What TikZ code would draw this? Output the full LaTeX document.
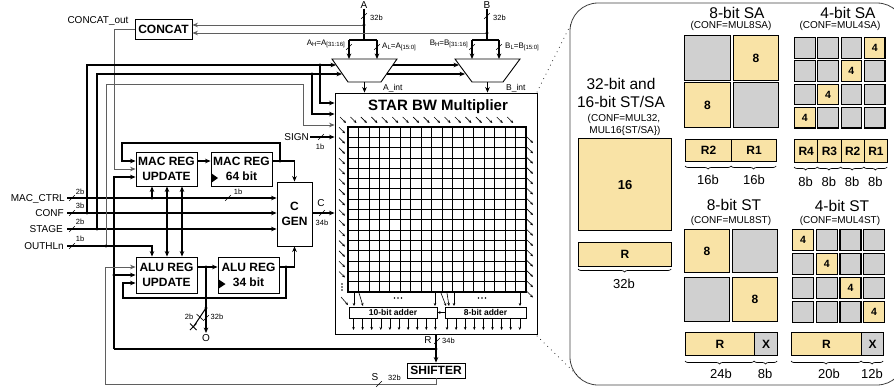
\documentclass[tikz,border=0pt]{standalone}
\usepackage{fontspec}
\setmainfont{Liberation Sans}
\usetikzlibrary{arrows.meta,decorations.pathreplacing}
\definecolor{yel}{RGB}{249,227,166}
\definecolor{gry}{RGB}{208,208,208}
\definecolor{wire}{RGB}{95,95,95}
\newcommand{\fsz}[1]{\fontsize{#1}{#1}\selectfont}
\newcommand{\busm}[2]{\draw[line width=0.6pt,black] (#1-2.8,#2+2.8) -- (#1+2.8,#2-2.8);}
\newcommand{\jdot}[2]{\fill (#1,#2) circle (1.7pt);}
\newcommand{\sbs}[1]{\raisebox{-1.6pt}{\fsz{6}#1}}
\newcommand{\pcell}[6]{\node[cel,fill=#5,minimum width=#3pt,minimum height=#4pt,anchor=north west] at (#1,#2) {#6};}
\begin{document}
\begin{tikzpicture}[x=1pt,y=-1pt,
  >={Stealth[length=5.5pt,width=4.6pt]},
  wb/.style={line width=1.1pt,black},
  wg/.style={line width=0.8pt,wire},
  blk/.style={draw,line width=0.9pt,fill=white,font=\fontsize{12}{14.5}\selectfont\bfseries,align=center,inner sep=0pt},
  lbl/.style={font=\fsz{10},inner sep=0pt},
  sml/.style={font=\fsz{7.5},inner sep=0pt},
  sub/.style={font=\fsz{8},inner sep=0pt},
  cfg/.style={font=\fsz{10},inner sep=0pt},
  ttl/.style={font=\fsz{15.5},inner sep=0pt},
  cel/.style={draw,line width=1.1pt,inner sep=0pt,font=\bfseries\fsz{12}},
  brc/.style={decorate,decoration={brace,mirror,amplitude=3pt},line width=0.7pt},
  bl/.style={font=\fsz{13},inner sep=0pt},
  sa/.style={-{Stealth[length=3pt,width=2.6pt]},line width=0.6pt},
]
\useasboundingbox (0,0) rectangle (894,388);

% ---------------- blocks ----------------
\node[blk,minimum width=57pt,minimum height=20pt] (concat) at (163.5,29) {CONCAT};
\node[blk,minimum width=61pt,minimum height=34pt] (macu) at (166.5,169) {MAC REG\\UPDATE};
\node[blk,minimum width=61pt,minimum height=34pt] (macr) at (241.5,169) {MAC REG\\64 bit};
\node[blk,minimum width=61pt,minimum height=36pt] (alu) at (166.5,275) {ALU REG\\UPDATE};
\node[blk,minimum width=61pt,minimum height=36pt] (alur) at (248.5,275) {ALU REG\\34 bit};
\node[blk,minimum width=35pt,minimum height=64pt] (cgen) at (294.5,214) {C\\GEN};
\node[draw,line width=0.9pt,minimum width=202pt,minimum height=241pt,inner sep=0pt] (mult) at (436,213.5) {};
\node[font=\bfseries\fsz{15},inner sep=0pt] (title) at (438,107) {STAR BW Multiplier};
\node[blk,minimum width=58pt,minimum height=15pt] (shift) at (436,370.5) {SHIFTER};
\node[blk,font=\bfseries\fsz{8.5},minimum width=88pt,minimum height=11pt] (add10) at (393,312.5) {10-bit adder};
\node[blk,font=\bfseries\fsz{8.5},minimum width=81pt,minimum height=11pt] (add8) at (485.5,312.5) {8-bit adder};
\fill (211,173) -- (218,178) -- (211,183) -- cycle;
\fill (218,279) -- (225.5,284) -- (218,289) -- cycle;

% muxes
\draw[line width=0.9pt,fill=white] (332,59) -- (397,59) -- (381,82) -- (348,82) -- cycle;
\draw[line width=0.9pt,fill=white] (455,59) -- (520,59) -- (503,82) -- (472,82) -- cycle;
\coordinate (muxA) at (364.5,82);
\coordinate (muxB) at (487.5,82);

% ---------------- A / B inputs ----------------
\node[lbl] (Alab) at (364,5) {A};
\node[lbl] (Blab) at (487,5) {B};
\coordinate (Ad) at (364,25);
\coordinate (Bd) at (487,33);
\draw[wb] (Alab.south) -- (364,40);
\draw[wb] (Blab.south) -- (487,40);
\busm{364}{16} \busm{487}{16}
\node[sml,anchor=west] (a32) at (370,18) {32b};
\node[sml,anchor=west] (b32) at (493,18) {32b};
\draw[wb] (349,40) -- (377,40);
\draw[wb] (472,40) -- (499,40);
\draw[wb,->] (349,40) -- (349,59);
\draw[wb,->] (377,40) -- (377,59);
\draw[wb,->] (472,40) -- (472,59);
\draw[wb,->] (499,40) -- (499,59);
\busm{349}{47} \busm{377}{47} \busm{472}{47} \busm{499}{47}
\node[sub,anchor=east] (ah) at (345,44) {A\sbs{H}=A\sbs{[31:16]}};
\node[sub,anchor=west] (al) at (382,47) {A\sbs{L}=A\sbs{[15:0]}};
\node[sub,anchor=east] (bh) at (468,44) {B\sbs{H}=B\sbs{[31:16]}};
\node[sub,anchor=west] (bl) at (505,47) {B\sbs{L}=B\sbs{[15:0]}};
\draw[wg,->] (Ad) -- (Ad -| concat.east);
\draw[wg,->] (Bd) -- (Bd -| concat.east);
\jdot{364}{25} \jdot{487}{33}
\draw[wb,->] (muxA) -- (mult.north -| muxA);
\draw[wb,->] (muxB) -- (mult.north -| muxB);
\node[font=\fsz{8.5},inner sep=0pt,anchor=west] (aint) at (383,88) {A\_int};
\node[font=\fsz{8.5},inner sep=0pt,anchor=west] (bint) at (506,88) {B\_int};

% CONCAT out
\node[lbl] (cout) at (98,21) {CONCAT\_out};
\draw[wg,->] (concat.west) -- (114,29) -- (114,169) -- (macu.west |- 0,169);

% ---------------- control inputs ----------------
\node[lbl,anchor=east] (mctrl) at (65,199) {MAC\_CTRL};
\node[lbl,anchor=east] (conf) at (64,213) {CONF};
\node[lbl,anchor=east] (stage) at (63,229) {STAGE};
\node[lbl,anchor=east] (outh) at (64,246) {OUTHLn};
% MAC_CTRL
\draw[wb,->] (67,198) -- (cgen.west |- 0,198);
\draw[wb,->] (152,198) -- (macu.south -| 152,0);
\busm{72}{198} \node[sml] at (80,192) {2b};
\busm{228}{198} \node[sml] at (238,192) {1b};
\jdot{152}{198}
% CONF
\draw[wb,->] (67,213) -- (cgen.west |- 0,213);
\draw[wb,->] (87,213) -- (87,65) -- (336,65);
\draw[wb,->] (393,65) -- (459,65);
\draw[wb,->] (320,65) -- (320,103) -- (mult.west |- 0,103);
\busm{72}{213} \node[sml] at (80,206) {3b};
\jdot{87}{213} \jdot{167}{213} \jdot{320}{65}
% STAGE
\draw[wb,->] (67,229) -- (cgen.west |- 0,229);
\draw[wb,->] (97,229) -- (97,74) -- (342,74);
\draw[wb,->] (387,74) -- (465,74);
\draw[wb,->] (312,74) -- (312,114) -- (mult.west |- 0,114);
\busm{72}{229} \node[sml] at (80,222) {2b};
\jdot{97}{229} \jdot{182}{229} \jdot{312}{74}
% OUTHLn
\draw[wb,->] (67,246) -- (152,246) -- (alu.north -| 152,0);
\draw[wg,->] (106,246) -- (106,84) -- (303,84) -- (303,125) -- (mult.west |- 0,125);
\busm{72}{246} \node[sml] at (80,239) {1b};
\jdot{106}{246}
% verticals between MAC and ALU
\draw[wb,<->] (macu.south -| 167,0) -- (alu.north -| 167,0);
\draw[wb,<->] (macu.south -| 182,0) -- (alu.north -| 182,0);

% SIGN
\node[lbl,anchor=east] (sign) at (309,137) {SIGN};
\draw[wb,->] (sign.east) ++(1,0) -- (mult.west |- 0,137);
\busm{321}{137} \node[sml] at (320,147) {1b};

% ---------------- MAC REG ----------------
\draw[wb,->] (macu.east |- 0,161) -- (macr.west |- 0,161);
\draw[wb,->] (macr.east |- 0,161) -- (294.5,161) -- (cgen.north);
\draw[wb,->] (280,161) -- (280,143) -- (122,143) -- (122,161) -- (macu.west |- 0,161);
\jdot{280}{161}

% ---------------- ALU REG ----------------
\draw[wb,->] (alu.east |- 0,267) -- (alur.west |- 0,267);
\draw[wb,->] (alur.east |- 0,267) -- (294.5,267) -- (cgen.south);
\draw[wb,->] (286,267) -- (286,298) -- (123,298) -- (123,283) -- (alu.west |- 0,283);
\jdot{286}{267}
\draw[wb] (206,267) -- (206,308);
\coordinate (Oend) at (206,333);
\draw[wb,->] (206,308) -- (Oend);
\node[lbl,anchor=north] (Olab) at (206,334) {O};
\draw[wb] (206,308) -- (194,326);
\draw[line width=0.8pt] (190,323.5) -- (196.5,330) (190,330) -- (196.5,323.5);
\draw[line width=0.6pt] (196.5,314) -- (203,320);
\busm{206}{318}
\node[sml] at (189,317) {2b};
\node[sml] at (217,317) {32b};
\jdot{206}{267} \jdot{206}{308}

% C
\draw[wb,->] (cgen.east |- 0,213) -- (mult.west |- 0,213);
\node[lbl] at (321,203) {C};
\busm{322}{213}
\node[sml] at (322,223) {34b};

% ---------------- R feedback ----------------
\draw[wb,->] (114,349) -- (114,177) -- (macu.west |- 0,177);
\draw[wb,->] (114,275) -- (alu.west |- 0,275);
\draw[wb] (114,349) -- (436,349);
\draw[wb,->] (mult.south -| shift.north) -- (shift.north);
\jdot{114}{275} \jdot{436}{349}
\node[lbl] at (428,340) {R};
\busm{437}{341}
\node[sml,anchor=west] at (442,341) {34b};
% S
\draw[wg,->] (shift.south) -- (436,384) -- (105,384) -- (105,267) -- (alu.west |- 0,267);
\node[lbl] at (375,377) {S};
\busm{379}{384}
\node[sml,anchor=west] at (388,378) {32b};

% ---------------- multiplier internals ----------------
\foreach \i in {1,...,16} \draw[line width=0.8pt] (348+\i*10.47,127) -- (348+\i*10.47,292);
\foreach \j in {1,...,15} \draw[line width=0.8pt] (348,127+\j*10.31) -- (526,127+\j*10.31);
\draw[line width=1.5pt] (348,127) rectangle (526,292);
\foreach \i in {0,...,16} \draw[sa] (340+\i*10.45,117) -- ++(6,6);
\foreach \j in {1,...,15} \draw[sa] (339,117+\j*10.3) -- ++(6,6);
\foreach \k in {0,1,2} \fill (342,284+\k*3) circle (0.8pt);
\foreach \j in {0,...,15} \draw[sa] (527,137+\j*10.3) -- ++(6,6);
\draw[sa] (354,293) -- (354,306);
\draw[sa] (359,293) -- (363,306);
\draw[sa] (341,297) -- (348,305);
\foreach \k in {0,1,2} \fill (394.5+\k*3.5,298) circle (0.8pt);
\draw[sa] (435,293) -- (435,306);
\draw[sa] (441,293) -- (446,306);
\draw[sa] (447,293) -- (449,306);
\draw[sa] (454,293) -- (454,306);
\foreach \k in {0,1,2} \fill (478.5+\k*3.5,298) circle (0.8pt);
\draw[sa] (520,293) -- (520,306);
\foreach \i in {0,...,9} \draw[sa] (353.5+\i*9.1,318) -- (353.5+\i*9.1,330);
\foreach \i in {0,...,8} \draw[sa] (447+\i*9.1,318) -- (447+\i*9.1,330);
\draw[sa] (add8.west) -- (add10.east);

% ---------------- detail panel ----------------
\draw[line width=0.8pt,black!75,rounded corners=28pt] (570,3) rectangle (905,385);
\draw[line width=1pt,line cap=round,dash pattern=on 0pt off 5pt] (537,92) -- (572,22);
\draw[line width=1pt,line cap=round,dash pattern=on 0pt off 5pt] (537,336) -- (580,378);

% column 1
\node[ttl] at (621,84) {32-bit and};
\node[ttl] at (621,102) {16-bit ST/SA};
\node[cfg] at (624,119) {(CONF=MUL32,};
\node[cfg] at (625,131) {MUL16\{ST/SA\})};
\pcell{578}{138}{93}{92}{yel}{\fsz{13}16}
\pcell{578}{242}{93}{24}{yel}{R}
\draw[brc] (578,269) -- (671,269);
\node[bl] at (624,284) {32b};

% column 2
\node[ttl] at (737,13) {8-bit SA};
\node[cfg] at (731,26) {(CONF=MUL8SA)};
\pcell{684}{35}{46}{45}{gry}{}
\pcell{733}{35}{45}{45}{yel}{8}
\pcell{684}{82}{46}{45}{yel}{8}
\pcell{733}{82}{45}{45}{gry}{}
\pcell{685}{139}{46}{22}{yel}{R2}
\pcell{731}{139}{45}{22}{yel}{R1}
\draw[brc] (685,166) -- (731,166);
\draw[brc] (731,166) -- (776,166);
\node[bl] at (708,180) {16b};
\node[bl] at (754,180) {16b};
\node[ttl] at (734,205) {8-bit ST};
\node[cfg] at (731,221) {(CONF=MUL8ST)};
\pcell{684}{229}{45}{43}{yel}{8}
\pcell{732}{229}{45}{43}{gry}{}
\pcell{684}{277}{45}{44}{gry}{}
\pcell{732}{277}{45}{44}{yel}{8}
\pcell{685}{332}{69}{23}{yel}{R}
\pcell{754}{332}{23}{23}{gry}{X}
\draw[brc] (685,361) -- (754,361);
\draw[brc] (754,361) -- (777,361);
\node[bl] at (721,374) {24b};
\node[bl] at (765,374) {8b};

% column 3
\node[ttl] at (848,13) {4-bit SA};
\node[cfg] at (840,26) {(CONF=MUL4SA)};
\foreach \i in {0,...,3} \foreach \j in {0,...,3}
  \node[cel,fill=gry,minimum width=20.5pt,minimum height=20.5pt,anchor=north west] at (794+\i*23.3,37+\j*23.3) {};
\foreach \i/\j in {3/0,2/1,1/2,0/3}
  \node[cel,fill=yel,minimum width=20.5pt,minimum height=20.5pt,anchor=north west,font=\bfseries\fsz{10.5}] at (794+\i*23.3,37+\j*23.3) {4};
\foreach \i/\t in {0/R4,1/R3,2/R2,3/R1} {
  \node[cel,fill=yel,minimum width=23.25pt,minimum height=23pt,anchor=north west] at (794+\i*23.25,139) {\t};
  \draw[brc] (794+\i*23.25,167) -- (794+\i*23.25+23.25,167);
  \node[bl] at (805.6+\i*23.25,182) {8b};
}
\node[ttl] at (842,206) {4-bit ST};
\node[cfg] at (840,221) {(CONF=MUL4ST)};
\foreach \i in {0,...,3} \foreach \j in {0,...,3}
  \node[cel,fill=gry,minimum width=21pt,minimum height=20.5pt,anchor=north west] at (792+\i*23.7,229+\j*24) {};
\foreach \i in {0,...,3}
  \node[cel,fill=yel,minimum width=21pt,minimum height=20.5pt,anchor=north west,font=\bfseries\fsz{10.5}] at (792+\i*23.7,229+\i*24) {4};
\pcell{791}{332}{70}{23}{yel}{R}
\pcell{861}{332}{22}{23}{gry}{X}
\draw[brc] (791,361) -- (861,361);
\draw[brc] (861,361) -- (883,361);
\node[bl] at (829,374) {20b};
\node[bl] at (872,374) {12b};
\end{tikzpicture}
\end{document}
